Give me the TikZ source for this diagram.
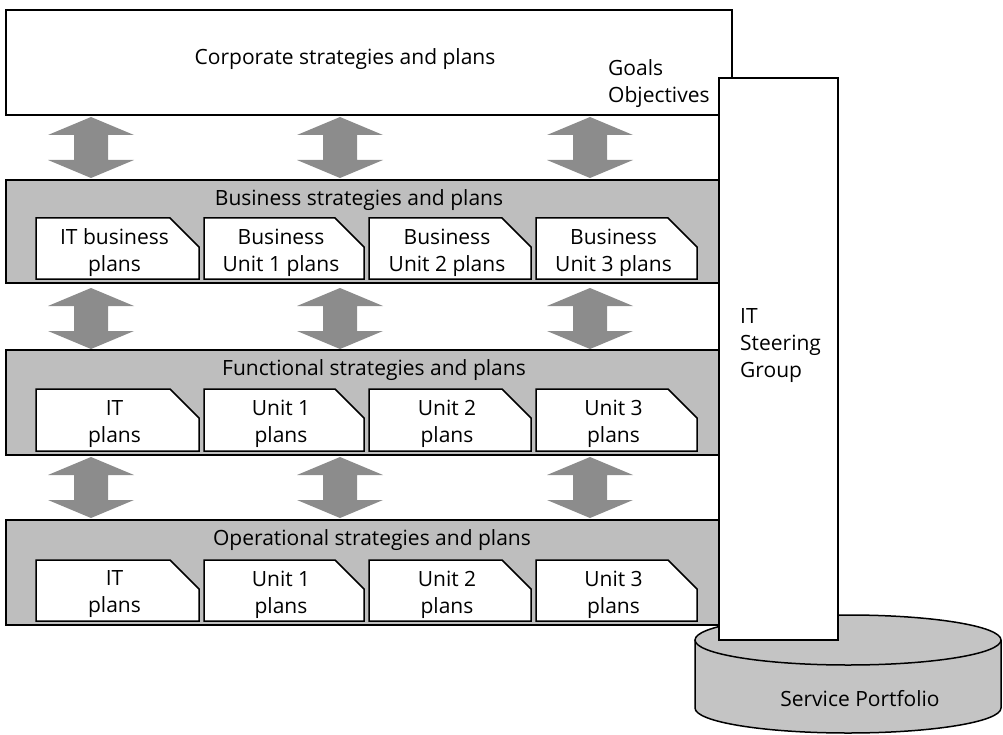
\documentclass[tikz,border=0pt]{standalone}
\usepackage{fontspec}
\setmainfont{Open Sans}
\definecolor{bandgray}{RGB}{190,190,190}
\definecolor{arrowgray}{RGB}{140,140,140}
\definecolor{cylgray}{RGB}{196,196,196}
\newcommand\docbox[6]{%
  \draw[docshape] (#2,#3) -- (#4-29,#3) -- (#4,#3+29) -- (#4,#5) -- (#2,#5) -- cycle;
  \node[doctext] (#1) at ({(#2+#4)/2-3},{(#3+#5)/2+4}) {#6};}
\begin{document}
\begin{tikzpicture}[x=1pt,y=-1pt,
  outline/.style={draw=black,line width=1.5pt},
  docshape/.style={outline,fill=white},
  doctext/.style={align=center,inner sep=0pt,font=\fontsize{21}{27}\selectfont},
  bandbox/.style={outline,fill=bandgray},
  titletext/.style={inner sep=0pt,font=\fontsize{21}{27}\selectfont},
  pics/dblarrow/.style={code={\fill[arrowgray] (0,0) -- (43,18) -- (17,18) -- (17,43) -- (43,43) -- (0,61) -- (-43,43) -- (-17,43) -- (-17,18) -- (-43,18) -- cycle;}}
]
\useasboundingbox (0,0) rectangle (1003,735);

% service portfolio cylinder
\fill[cylgray] (695,640) -- (695,708) arc[start angle=180,end angle=0,x radius=153,y radius=25] -- (1001,640) -- cycle;
\draw[outline] (695,640) -- (695,708) arc[start angle=180,end angle=0,x radius=153,y radius=25] -- (1001,640);
\draw[outline,fill=cylgray] (848,640) ellipse[x radius=153,y radius=25];
\node[titletext] (sp) at (860,699) {Service Portfolio};

% corporate box
\draw[outline,fill=white] (6,10) rectangle (732,115);
\node[titletext] (corp) at (345,59) {Corporate strategies and plans};
\node[titletext,align=left,anchor=west] (goals) at (608,84) {Goals\\Objectives};

% IT steering group column
\draw[outline,fill=white] (719,78) rectangle (838,640);
\node[titletext,align=left,anchor=west] (itsg) at (740,346) {IT\\Steering\\Group};

% arrows
\foreach \ax in {91,340,590}{
  \pic at (\ax,117) {dblarrow};
  \pic at (\ax,288) {dblarrow};
  \pic at (\ax,457) {dblarrow};
}

% business band
\draw[bandbox] (6,180) rectangle (719,283);
\node[titletext] (bus) at (359,200) {Business strategies and plans};
\docbox{b1}{36}{218}{199}{279}{IT business\\plans}
\docbox{b2}{204}{218}{364}{279}{Business\\Unit 1 plans}
\docbox{b3}{369}{218}{531}{279}{Business\\Unit 2 plans}
\docbox{b4}{536}{218}{697}{279}{Business\\Unit 3 plans}

% functional band
\draw[bandbox] (6,350) rectangle (719,455);
\node[titletext] (fun) at (374,370) {Functional strategies and plans};
\docbox{f1}{36}{389}{199}{451}{IT\\plans}
\docbox{f2}{204}{389}{364}{451}{Unit 1\\plans}
\docbox{f3}{369}{389}{531}{451}{Unit 2\\plans}
\docbox{f4}{536}{389}{697}{451}{Unit 3\\plans}

% operational band
\draw[bandbox] (6,520) rectangle (719,625);
\node[titletext] (ope) at (372,540) {Operational strategies and plans};
\docbox{o1}{36}{560}{199}{621}{IT\\plans}
\docbox{o2}{204}{560}{364}{621}{Unit 1\\plans}
\docbox{o3}{369}{560}{531}{621}{Unit 2\\plans}
\docbox{o4}{536}{560}{697}{621}{Unit 3\\plans}
\end{tikzpicture}
\end{document}
